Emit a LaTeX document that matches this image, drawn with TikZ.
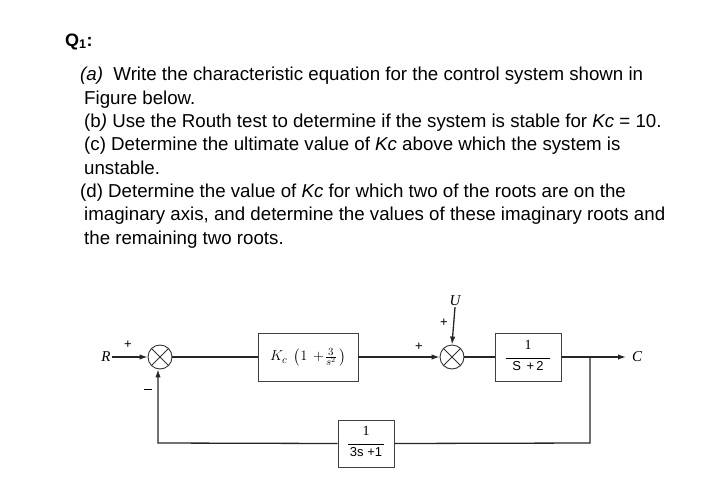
\documentclass[tikz,border=0pt]{standalone}
\usepackage{amsmath}
\usepackage{fontspec}
\setmainfont{Liberation Sans}
\newfontfamily\serifff{Liberation Serif}
\usetikzlibrary{arrows.meta}
\begin{document}
\begin{tikzpicture}[x=1pt,y=-1pt,
  qline/.style={anchor=base west,inner sep=0pt,font=\fontsize{18.7}{22}\selectfont},
  conn/.style={line width=1.3pt,draw=black!85},
  arr/.style={conn,-{Latex[length=8pt,width=5.5pt]}},
  blk/.style={draw=black!75,line width=0.8pt,inner sep=0pt},
  sumj/.style={circle,draw=black!80,line width=0.9pt,minimum size=24pt,inner sep=0pt},
  sig/.style={inner sep=1pt,font=\serifff\itshape\fontsize{15}{17}\selectfont},
  sgn/.style={inner sep=0pt,font=\fontsize{13}{15}\selectfont}
]
\useasboundingbox (0,0) rectangle (728,485);
% question text
\node[qline,font=\bfseries\fontsize{18}{21}\selectfont] (q) at (65,46) {Q\textsubscript{1}:};
\node[qline] (l1) at (80,80) {\textit{(a)}\ \ Write the characteristic equation for the control system shown in};
\node[qline] (l2) at (84,104) {Figure below.};
\node[qline] (l3) at (84,127) {(b\textit{)} Use the Routh test to determine if the system is stable for \textit{Kc} = 10.};
\node[qline] (l4) at (84,150) {(c) Determine the ultimate value of \textit{Kc} above which the system is};
\node[qline] (l5) at (84,174) {unstable.};
\node[qline] (l6) at (80,197) {(d) Determine the value of \textit{Kc} for which two of the roots are on the};
\node[qline] (l7) at (84,220) {imaginary axis, and determine the values of these imaginary roots and};
\node[qline] (l8) at (84,244) {the remaining two roots.};
% block diagram
\node[sumj] (s1) at (160,357) {};
\draw[black!80,line width=0.9pt] (s1.north east) -- (s1.south west) (s1.north west) -- (s1.south east);
\node[sumj] (s2) at (452,357) {};
\draw[black!80,line width=0.9pt] (s2.north east) -- (s2.south west) (s2.north west) -- (s2.south east);
\node[blk,minimum width=100pt,minimum height=48pt,font=\fontsize{15}{17}\selectfont] (kc) at (308,357)
  {$K_c\;\,\bigl(1\,+\!\tfrac{3}{s^2}\,\bigr)$\hspace{12pt}};
\node[blk,minimum width=66pt,minimum height=48pt] (p) at (528,357)
  {\begin{tabular}{@{}c@{}}{\serifff\fontsize{14}{15}\selectfont 1}\\[-3pt]\rule{44pt}{0.6pt}\\[-1pt]{\fontsize{13}{15}\selectfont S\, +\,2}\end{tabular}};
\node[blk,minimum width=56pt,minimum height=47pt] (fb) at (366,443.5)
  {\begin{tabular}{@{}c@{}}{\serifff\fontsize{14}{15}\selectfont 1}\\[-3pt]\rule{36pt}{0.6pt}\\[-1pt]{\fontsize{13}{15}\selectfont 3s +1}\end{tabular}};
\node[sig] (R) at (106,357) {R};
\node[sig] (U) at (455,301) {U};
\node[sig,anchor=west] (C) at (631,357) {C};
\coordinate (br) at (590,357);
\coordinate (bd) at (590,443);
\coordinate (bl) at (158,443);
% connectors
\draw[arr] (R.east) -- (s1.west);
\draw[conn] (s1.east) -- (kc.west);
\draw[arr] (kc.east) -- (s2.west);
\draw[arr] (U.south) -- (s2.north);
\draw[conn] (s2.east) -- (p.west);
\draw[arr] (p.east) -- ([xshift=-5pt]C.west);
\draw[conn] (br) -- (bd) -- (fb.east);
\draw[arr] (fb.west) -- (bl) -- (bl |- s1.south);
% signs
\node[sgn] (p1) at (128,345) {+};
\node[sgn] (m1) at (148,391) {\rule[3pt]{8pt}{0.8pt}};
\node[sgn] (p2) at (419,347) {+};
\node[sgn] (p3) at (444,323) {+};
\end{tikzpicture}
\end{document}
